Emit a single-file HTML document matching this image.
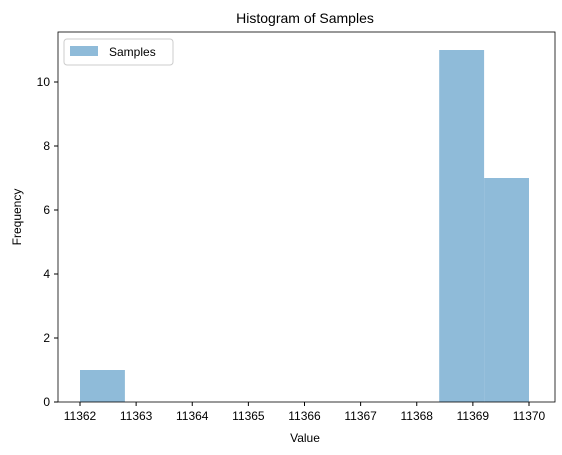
<!DOCTYPE html>
<html><head><meta charset="utf-8"><style>
body{margin:0;background:#fff;}
svg{display:block;font-family:"Liberation Sans","DejaVu Sans",sans-serif;}
</style></head><body>
<svg id="chart" width="562" height="455">
<rect x="0" y="0" width="562" height="455" fill="#fff"/>
<text x="305" y="23" text-anchor="middle" font-size="14" fill="#000">Histogram of Samples</text>
<g id="bars"></g>
<g id="xticks"></g>
<g id="yticks"></g>
<rect x="58" y="32" width="497" height="370" fill="none" stroke="#000" stroke-width="0.8"/>
<text x="305" y="442" text-anchor="middle" font-size="12">Value</text>
<text x="21" y="217" text-anchor="middle" font-size="12" transform="rotate(-90 21 217)">Frequency</text>
<g>
<rect x="64" y="39" width="109" height="26" rx="3" fill="#fff" stroke="#ccc" stroke-width="1"/>
<rect x="70" y="46" width="28" height="10" fill="#8fbbd9"/>
<text x="109" y="56" font-size="12">Samples</text>
</g>
</svg>
<script>
const binStarts=[11362,11362.8,11363.6,11364.4,11365.2,11366,11366.8,11367.6,11368.4,11369.2];
const counts=[1,0,0,0,0,0,0,0,11,7];
const binWidth=0.8;
const xTicks=[11362,11363,11364,11365,11366,11367,11368,11369,11370];
const yTicks=[0,2,4,6,8,10];
const NS="http://www.w3.org/2000/svg";
const x=v=>80+(v-11362)*56.125;
const y=v=>402-v*32;
const bars=document.getElementById('bars');
binStarts.forEach((b,i)=>{
  if(!counts[i])return;
  const r=document.createElementNS(NS,'rect');
  r.setAttribute('x',x(b));r.setAttribute('width',x(b+binWidth)-x(b));
  r.setAttribute('y',y(counts[i]));r.setAttribute('height',y(0)-y(counts[i]));
  r.setAttribute('fill','#8fbbd9');
  
  
  bars.appendChild(r);
});
const xt=document.getElementById('xticks');
xTicks.forEach(t=>{
  const l=document.createElementNS(NS,'line');
  l.setAttribute('x1',x(t));l.setAttribute('x2',x(t));l.setAttribute('y1',402);l.setAttribute('y2',406);l.setAttribute('stroke','#000');
  
  
  xt.appendChild(l);
  const s=document.createElementNS(NS,'text');
  s.setAttribute('x',x(t));s.setAttribute('y',420);s.setAttribute('text-anchor','middle');s.setAttribute('font-size','12');
  s.textContent=t;
  
  
  xt.appendChild(s);
});
const yt=document.getElementById('yticks');
yTicks.forEach(t=>{
  const l=document.createElementNS(NS,'line');
  l.setAttribute('x1',54);l.setAttribute('x2',58);l.setAttribute('y1',y(t));l.setAttribute('y2',y(t));l.setAttribute('stroke','#000');
  
  
  yt.appendChild(l);
  const s=document.createElementNS(NS,'text');
  s.setAttribute('x',50);s.setAttribute('y',y(t)+4);s.setAttribute('text-anchor','end');s.setAttribute('font-size','12');
  s.textContent=t;
  
  
  yt.appendChild(s);
});
</script>
</body></html>
